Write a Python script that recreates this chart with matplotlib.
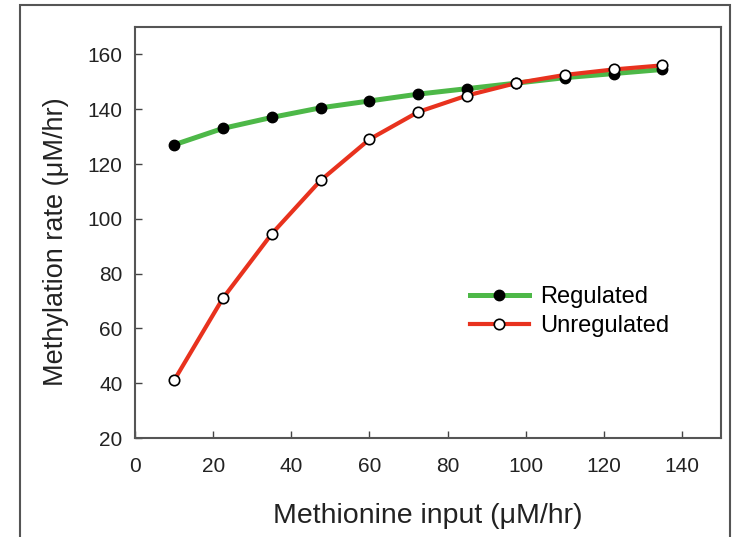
import matplotlib.pyplot as plt
from matplotlib.patches import Rectangle

methionine = [10, 22.5, 35, 47.5, 60, 72.5, 85, 97.5, 110, 122.5, 135]
regulated = [127, 133, 137, 140.5, 143, 145.5, 147.5, 149.5, 151.5, 153, 154.5]
unregulated = [41, 71, 94.5, 114, 129, 139, 145, 149.5, 152.5, 154.5, 156]

plt.rcParams['font.family'] = ['Liberation Sans', 'DejaVu Sans']

fig = plt.figure(figsize=(7.32, 5.37), dpi=100)
ax = fig.add_axes([135 / 732, 1 - 438 / 537, (721 - 135) / 732, (438 - 27) / 537])

# outer frame around the whole figure (open at the bottom)
fig.add_artist(Rectangle((20 / 732, -0.05), 710 / 732, 1.05 - 5 / 537,
                         transform=fig.transFigure, fill=False,
                         edgecolor="#555555", lw=1.5, clip_on=False))

ax.plot(methionine, regulated, color="#4db848", lw=3.6, marker="o", ms=7.5,
        mfc="black", mec="black", label="Regulated", zorder=3)
ax.plot(methionine, unregulated, color="#e8321e", lw=3, marker="o", ms=7.5,
        mfc="white", mec="black", mew=1.2, label="Unregulated", zorder=4)

ax.set_xlim(0, 150)
ax.set_ylim(20, 170)
ax.set_xticks(range(0, 141, 20))
ax.set_yticks(range(20, 161, 20))
ax.tick_params(direction="in", length=5, width=1, colors="#444444",
               labelsize=15, labelcolor="#222222")
ax.tick_params(axis="x", pad=14)
ax.tick_params(axis="y", pad=9)
for s in ax.spines.values():
    s.set_color("#555555")
    s.set_linewidth(1.5)

ax.set_xlabel("Methionine input (\u03bcM/hr)", fontsize=20.5, color="#222222")
ax.set_ylabel("Methylation rate (\u03bcM/hr)", fontsize=19.5, color="#222222")
ax.xaxis.set_label_coords(0.5, -0.158)
ax.yaxis.set_label_coords(-0.112, 0.478)

ax.legend(loc="center left", bbox_to_anchor=(0.535, 0.308), frameon=False,
          fontsize=17, handlelength=2.5, labelspacing=0.3, handletextpad=0.5)

fig.savefig("out.png", dpi=100)
